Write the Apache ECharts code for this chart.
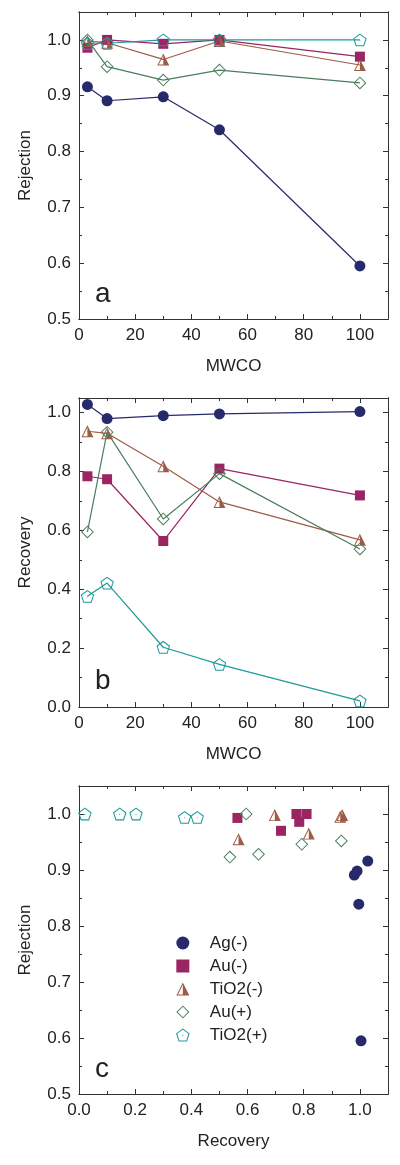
<!DOCTYPE html>
<html>
<head>
<meta charset="utf-8">
<script src="https://cdn.jsdelivr.net/npm/echarts@6/dist/echarts.min.js"></script>
<style>html,body{margin:0;padding:0;background:#fff;}#c{width:400px;height:1165px;}</style>
</head>
<body>
<div id="c"></div>
<script>
// ---- data ----
const mwco = [3, 10, 30, 50, 100];
const seriesNames = ['Ag(-)', 'Au(-)', 'TiO2(-)', 'Au(+)', 'TiO2(+)'];
const rejAg  = [0.916, 0.891, 0.898, 0.839, 0.595];
const rejAuN = [0.986, 1.000, 0.993, 1.000, 0.970];
const rejTiN = [0.998, 0.995, 0.965, 0.998, 0.955];
const rejAuP = [1.000, 0.952, 0.928, 0.946, 0.923];
const rejTiP = [0.994, 0.994, 1.000, 1.000, 1.000];
const recAg  = [1.028, 0.980, 0.990, 0.996, 1.004];
const recAuN = [0.784, 0.774, 0.564, 0.810, 0.719];
const recTiN = [0.937, 0.930, 0.818, 0.697, 0.568];
const recAuP = [0.595, 0.934, 0.639, 0.793, 0.537];
const recTiP = [0.376, 0.421, 0.203, 0.145, 0.021];
const panelLetters = ['a', 'b', 'c'];
const axisNames = { aX: 'MWCO', aY: 'Rejection', bX: 'MWCO', bY: 'Recovery', cX: 'Recovery', cY: 'Rejection' };

// ---- styles ----
const FONT = 'Liberation Sans';
const colors = ['#262a6b', '#9b2462', '#9e5b45', '#4a7d5c', '#1f9a9a'];
const rectPath = 'path://M0,0L100,0L100,100L0,100Z';
const triPath = 'path://M50,0L100,100L0,100ZM50,18L12.9,92L87.1,92ZM50,0L100,100L50,100Z';
const diaPath = 'path://M50,0L100,50L50,100L0,50ZM50,10.5L10.5,50L50,89.5L89.5,50Z';
const pentPath = 'path://M50,0L97.55,34.55L79.39,90.45L20.61,90.45L2.45,34.55ZM50,9L11.01,37.33L25.9,83.17L74.1,83.17L88.99,37.33ZM47,46L53,46L53,52L47,52Z';
const symbols = ['circle', rectPath, triPath, diaPath, pentPath];
const symSizes = [11, 10, [12, 12], 13, [13.5, 12.8]];
const rej = [rejAg, rejAuN, rejTiN, rejAuP, rejTiP];
const rec = [recAg, recAuN, recTiN, recAuP, recTiP];

const grids = [
  { left: 79, top: 12, width: 309, height: 307 },
  { left: 79, top: 398, width: 309, height: 309 },
  { left: 79, top: 786, width: 309, height: 308 }
];

const xAxes = [], yAxes = [];
function addAxes(list, dim, gi, min, max, major, minor, fmt, name, nameGap) {
  const pos = dim === 'x' ? ['bottom', 'top'] : ['left', 'right'];
  const base = {
    gridIndex: gi, type: 'value', min: min, max: max,
    splitLine: { show: false },
    axisLine: { show: true, onZero: false, lineStyle: { color: '#333', width: 1 } },
    axisTick: { show: true, inside: true, length: 5, lineStyle: { color: '#333', width: 1 } },
    axisLabel: { show: false }
  };
  const mainIdx = list.length;
  list.push(Object.assign({}, base, {
    position: pos[0], interval: major,
    name: name, nameLocation: 'middle', nameGap: nameGap,
    nameTextStyle: { fontFamily: FONT, fontSize: 17, color: '#222' },
    axisLabel: { show: true, fontFamily: FONT, fontSize: 17, color: '#222', margin: 8, formatter: fmt }
  }));
  list.push(Object.assign({}, base, { position: pos[0], interval: minor, axisTick: Object.assign({}, base.axisTick, { length: 3 }) }));
  list.push(Object.assign({}, base, { position: pos[1], interval: major }));
  list.push(Object.assign({}, base, { position: pos[1], interval: minor, axisTick: Object.assign({}, base.axisTick, { length: 3 }) }));
  return mainIdx;
}
const fmtInt = v => (v > 100.5 ? '' : String(Math.round(v)));
const fmtDec = lim => v => (v > lim ? '' : v.toFixed(1));

const xa = addAxes(xAxes, 'x', 0, 0, 110, 20, 10, fmtInt, axisNames.aX, 39);
const ya = addAxes(yAxes, 'y', 0, 0.5, 1.05, 0.1, 0.05, fmtDec(1.001), axisNames.aY, 45);
const xb = addAxes(xAxes, 'x', 1, 0, 110, 20, 10, fmtInt, axisNames.bX, 39);
const yb = addAxes(yAxes, 'y', 1, 0, 1.05, 0.2, 0.1, fmtDec(1.001), axisNames.bY, 45);
const xc = addAxes(xAxes, 'x', 2, 0, 1.1, 0.2, 0.1, fmtDec(1.05), axisNames.cX, 39);
const yc = addAxes(yAxes, 'y', 2, 0.5, 1.05, 0.1, 0.05, fmtDec(1.001), axisNames.cY, 45);

const series = [];
seriesNames.forEach((n, i) => {
  series.push({
    name: n, type: 'scatter', xAxisIndex: xc, yAxisIndex: yc,
    symbol: symbols[i], symbolSize: symSizes[i],
    itemStyle: { color: colors[i], opacity: 1, borderWidth: 0 },
    emphasis: { disabled: true },
    data: rec[i].map((r, k) => [r, rej[i][k]])
  });
});
[[xa, ya, rej], [xb, yb, rec]].forEach(([xi, yi, src]) => {
  seriesNames.forEach((n, i) => {
    series.push({
      name: n, type: 'line', xAxisIndex: xi, yAxisIndex: yi,
      symbol: symbols[i], symbolSize: symSizes[i], showAllSymbol: true,
      itemStyle: { color: colors[i], opacity: 1, borderWidth: 0 },
      lineStyle: { color: colors[i], width: 1.2 },
      emphasis: { disabled: true },
      data: mwco.map((x, k) => [x, src[i][k]])
    });
  });
});

const chart = echarts.init(document.getElementById('c'), null, { renderer: 'canvas' });
chart.setOption({
  animation: false,
  backgroundColor: '#fff',
  grid: grids,
  xAxis: xAxes,
  yAxis: yAxes,
  legend: {
    data: seriesNames,
    orient: 'vertical', left: 171, top: 929,
    itemWidth: 44, itemHeight: 13, itemGap: 5, symbolKeepAspect: true,
    textStyle: { fontFamily: FONT, fontSize: 17, color: '#222', lineHeight: 18 },
    selectedMode: false
  },
  graphic: panelLetters.map((t, i) => ({
    type: 'text', left: 95, top: [280, 667, 1055][i],
    style: { text: t, fontFamily: FONT, fontSize: 28, fill: '#222' }
  })),
  series: series
});
</script>
</body>
</html>
